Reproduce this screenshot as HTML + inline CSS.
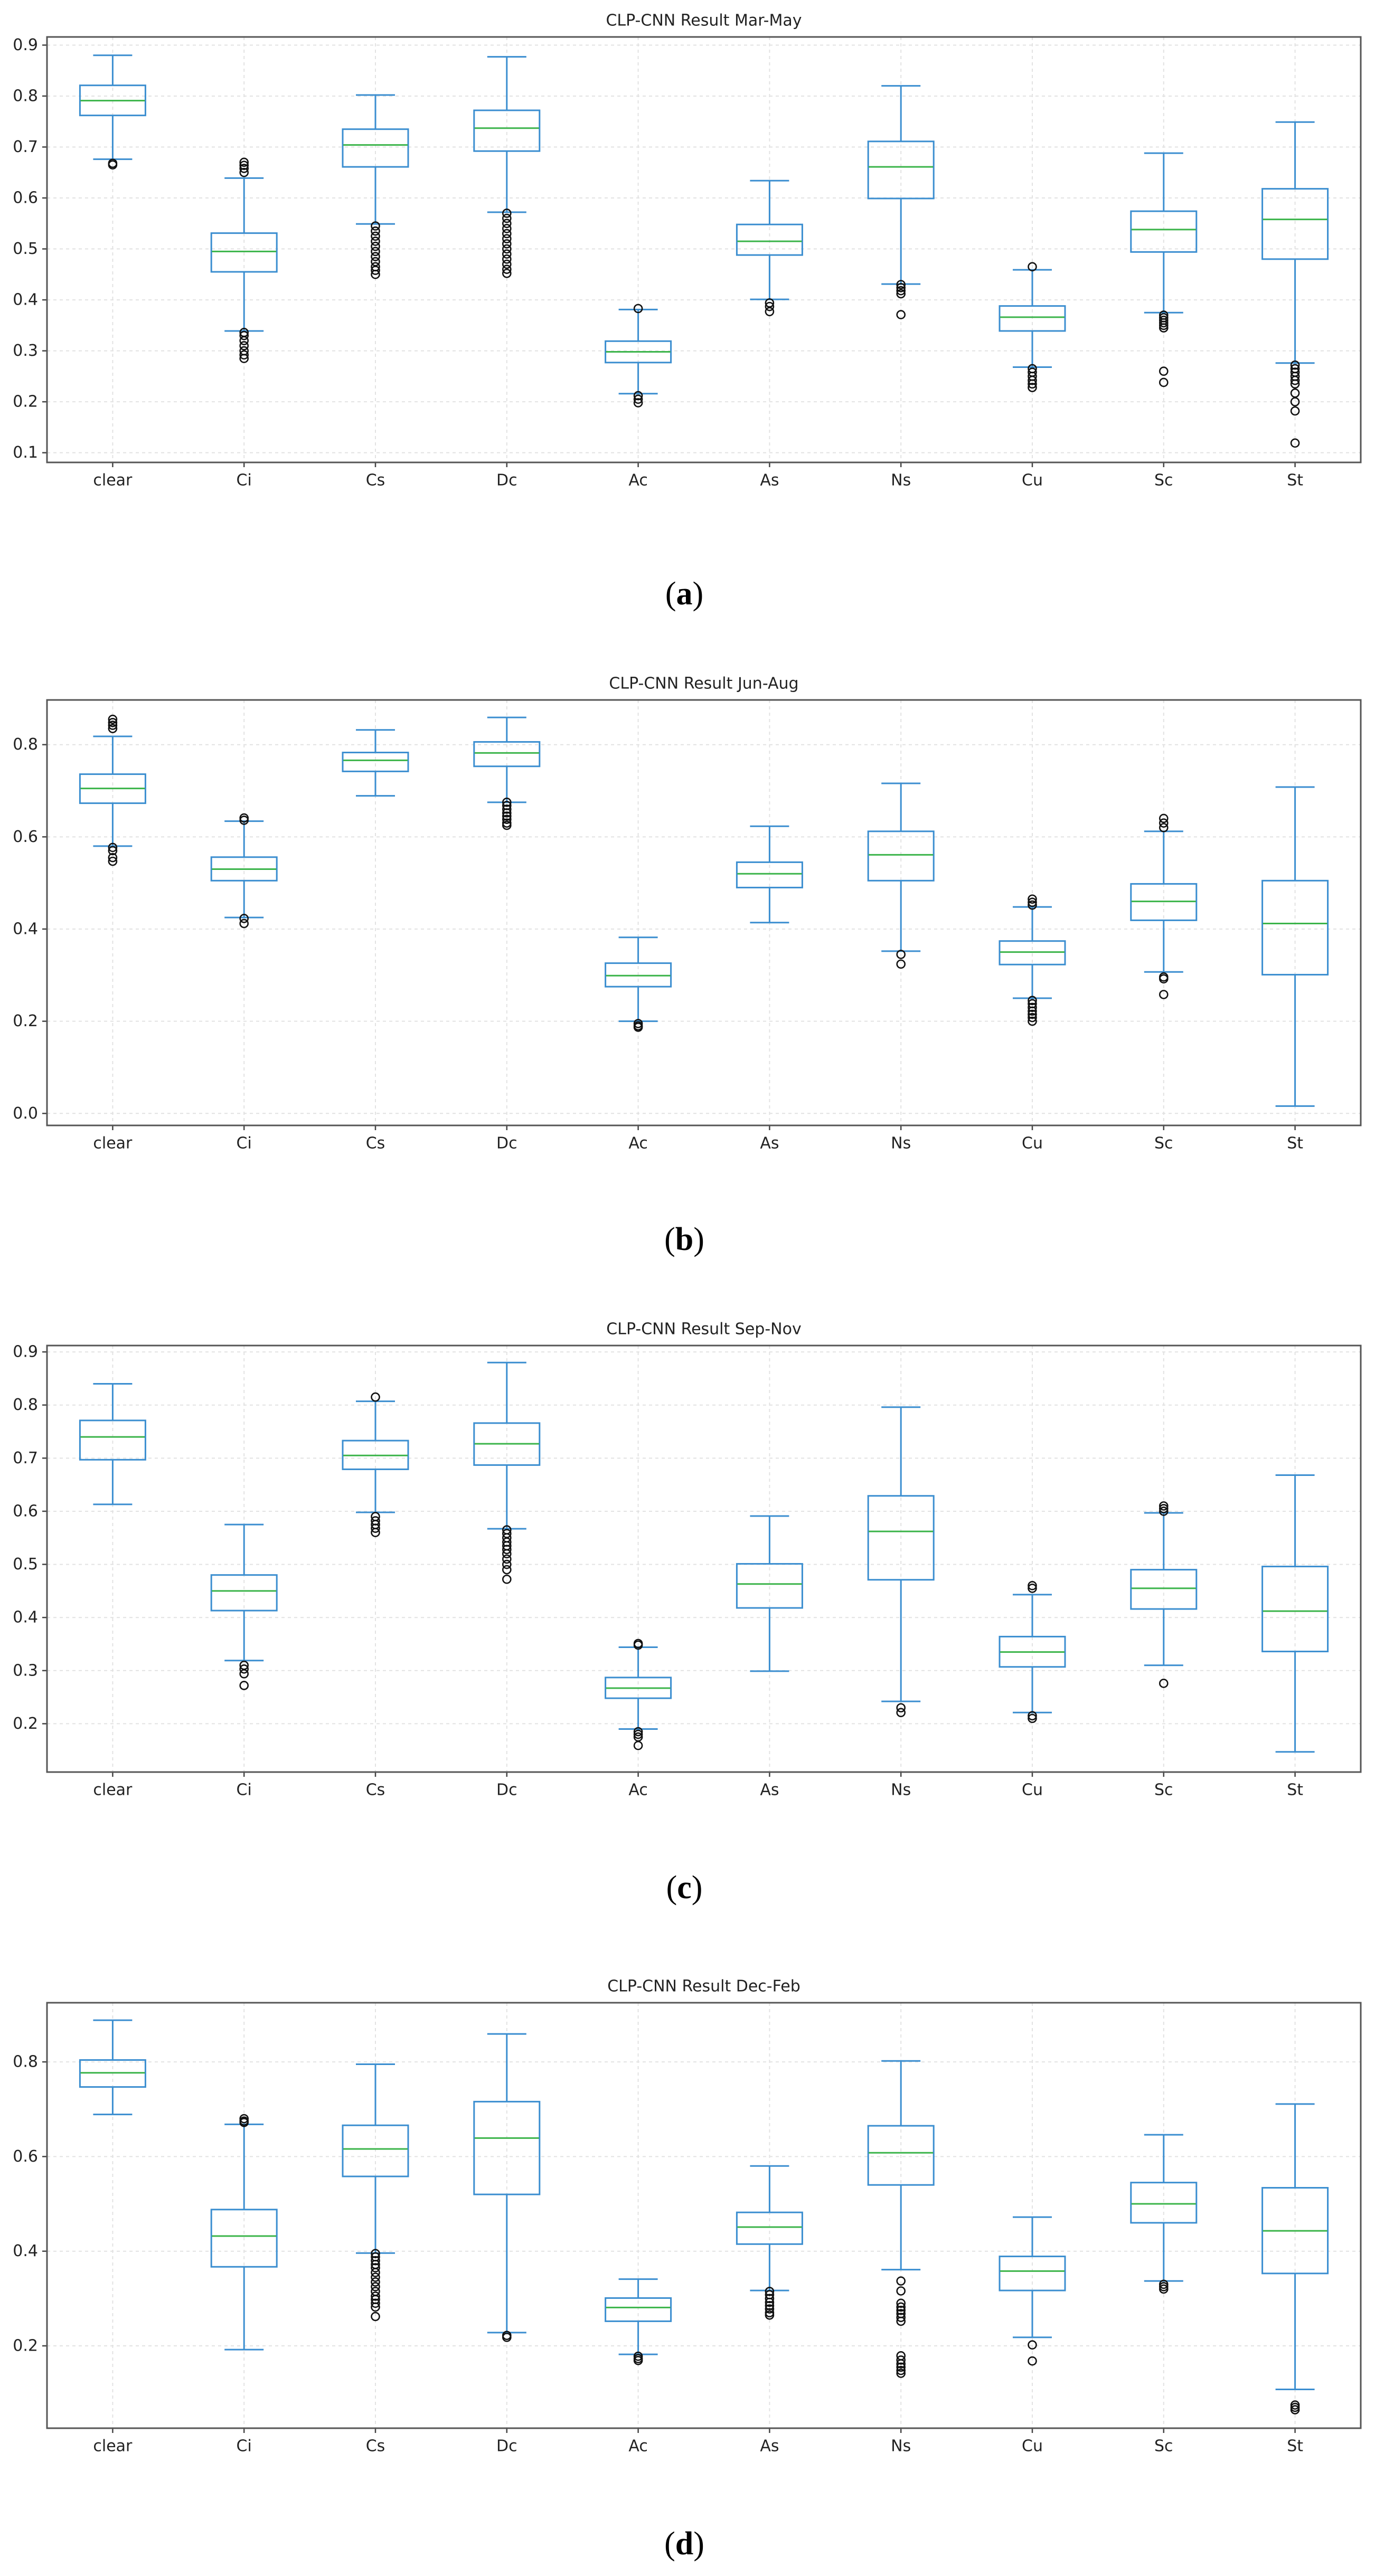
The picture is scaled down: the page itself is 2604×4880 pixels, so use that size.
<!DOCTYPE html>
<html><head><meta charset="utf-8"><title>CLP-CNN Results</title>
<style>
html,body{margin:0;padding:0;background:#fff;}
svg{display:block;}
text{font-family:"DejaVu Sans","Liberation Sans",sans-serif;fill:#222;}
.lbl{font-family:"Liberation Serif",serif;fill:#000;}
</style></head>
<body>
<svg id="fig" xmlns="http://www.w3.org/2000/svg" width="2604" height="4880" viewBox="0 0 2604 4880"></svg>
<script>
const categories = ["clear","Ci","Cs","Dc","Ac","As","Ns","Cu","Sc","St"];
const panelTitles = ["CLP-CNN Result Mar-May","CLP-CNN Result Jun-Aug","CLP-CNN Result Sep-Nov","CLP-CNN Result Dec-Feb"];
const panelLetters = ["a","b","c","d"];
const yTicksA = [0.1,0.2,0.3,0.4,0.5,0.6,0.7,0.8,0.9];
const yTicksB = [0.0,0.2,0.4,0.6,0.8];
const yTicksC = [0.2,0.3,0.4,0.5,0.6,0.7,0.8,0.9];
const yTicksD = [0.2,0.4,0.6,0.8];
const yRangeA = [0.081,0.916];
const yRangeB = [-0.026,0.897];
const yRangeC = [0.109,0.912];
const yRangeD = [0.026,0.925];
// each: [whislo, q1, median, q3, whishi]
const statsA = [[0.676,0.762,0.791,0.821,0.880],[0.339,0.455,0.495,0.531,0.639],[0.549,0.661,0.704,0.735,0.802],[0.572,0.692,0.737,0.772,0.877],[0.216,0.277,0.298,0.319,0.381],[0.401,0.488,0.515,0.548,0.634],[0.431,0.599,0.661,0.711,0.820],[0.268,0.339,0.366,0.388,0.459],[0.375,0.494,0.538,0.574,0.688],[0.276,0.480,0.558,0.618,0.749]];
const statsB = [[0.580,0.673,0.705,0.736,0.818],[0.425,0.505,0.530,0.556,0.634],[0.689,0.742,0.766,0.783,0.832],[0.675,0.753,0.782,0.806,0.859],[0.200,0.275,0.299,0.326,0.382],[0.414,0.490,0.520,0.545,0.623],[0.352,0.505,0.561,0.612,0.716],[0.250,0.323,0.350,0.374,0.448],[0.307,0.419,0.460,0.498,0.612],[0.016,0.301,0.412,0.505,0.708]];
const statsC = [[0.613,0.697,0.740,0.771,0.840],[0.319,0.413,0.450,0.480,0.575],[0.598,0.679,0.705,0.733,0.807],[0.567,0.687,0.727,0.766,0.880],[0.190,0.248,0.267,0.287,0.344],[0.299,0.418,0.463,0.501,0.591],[0.242,0.471,0.562,0.629,0.796],[0.221,0.307,0.335,0.364,0.443],[0.310,0.416,0.455,0.490,0.597],[0.147,0.336,0.412,0.496,0.668]];
const statsD = [[0.689,0.747,0.777,0.804,0.888],[0.192,0.367,0.432,0.488,0.668],[0.396,0.558,0.616,0.666,0.795],[0.228,0.520,0.639,0.716,0.859],[0.182,0.252,0.281,0.301,0.341],[0.317,0.415,0.451,0.482,0.580],[0.361,0.540,0.608,0.665,0.802],[0.218,0.317,0.358,0.389,0.472],[0.337,0.460,0.500,0.545,0.646],[0.108,0.353,0.443,0.534,0.711]];
const fliersA = [[0.665,0.668],[0.670,0.664,0.658,0.650,0.336,0.330,0.320,0.310,0.300,0.292,0.285],[0.545,0.535,0.525,0.515,0.505,0.495,0.485,0.475,0.465,0.458,0.450],[0.570,0.560,0.550,0.540,0.530,0.520,0.510,0.500,0.490,0.480,0.470,0.460,0.452],[0.383,0.212,0.205,0.198],[0.394,0.387,0.377],[0.430,0.424,0.418,0.412,0.371],[0.465,0.265,0.258,0.250,0.242,0.235,0.228],[0.370,0.365,0.360,0.355,0.350,0.345,0.260,0.238],[0.272,0.265,0.258,0.250,0.242,0.235,0.217,0.200,0.182,0.119]];
const fliersB = [[0.855,0.848,0.842,0.835,0.577,0.570,0.555,0.547],[0.641,0.636,0.423,0.412],[],[0.675,0.668,0.660,0.652,0.645,0.638,0.630,0.625],[0.195,0.190,0.187],[],[0.345,0.324],[0.465,0.458,0.452,0.245,0.238,0.230,0.222,0.215,0.208,0.200],[0.640,0.630,0.620,0.296,0.292,0.258],[]];
const fliersC = [[],[0.310,0.303,0.294,0.272],[0.815,0.590,0.582,0.575,0.568,0.560],[0.565,0.558,0.550,0.542,0.535,0.528,0.520,0.510,0.500,0.490,0.472],[0.351,0.348,0.185,0.180,0.175,0.159],[],[0.230,0.221],[0.460,0.455,0.215,0.210],[0.610,0.605,0.600,0.276],[]];
const fliersD = [[],[0.680,0.675,0.672],[0.395,0.388,0.380,0.372,0.365,0.355,0.345,0.335,0.325,0.315,0.305,0.298,0.290,0.282,0.262],[0.222,0.218],[0.178,0.173,0.169],[0.315,0.308,0.300,0.292,0.285,0.278,0.270,0.265],[0.337,0.316,0.290,0.282,0.275,0.268,0.260,0.252,0.179,0.170,0.162,0.155,0.148,0.142],[0.202,0.168],[0.330,0.325,0.320],[0.075,0.070,0.065]];

const panelData = [
  {top:70, bottom:876, ticks:yTicksA, range:yRangeA, stats:statsA, fliers:fliersA, lblY:1125},
  {top:1326, bottom:2132, ticks:yTicksB, range:yRangeB, stats:statsB, fliers:fliersB, lblY:2348},
  {top:2549, bottom:3357, ticks:yTicksC, range:yRangeC, stats:statsC, fliers:fliersC, lblY:3576},
  {top:3794, bottom:4600, ticks:yTicksD, range:yRangeD, stats:statsD, fliers:fliersD, lblY:4819}
];
const NS = "http://www.w3.org/2000/svg";
const svg = document.getElementById("fig");
const X0 = 89, X1 = 2577;
const BLUE = "#3b8ed0", GREEN = "#3bb44a";
function mk(tag, attrs, parent){
  const e = document.createElementNS(NS, tag);
  for (const k in attrs) e.setAttribute(k, attrs[k]);
  (parent||svg).appendChild(e);
  return e;
}
function xPos(i){ return X0 + (i + 0.5) * (X1 - X0) / categories.length; }

panelData.forEach((p, pi) => {
  const g = mk("g", {});
  
  
  const y = v => p.bottom - (v - p.range[0]) / (p.range[1] - p.range[0]) * (p.bottom - p.top);
  // grid
  p.ticks.forEach(t => {
    const gl = mk("line", {x1:X0, x2:X1, y1:y(t), y2:y(t), stroke:"#e2e2e2", "stroke-width":2, "stroke-dasharray":"6,6"}, g);
    
    
  });
  categories.forEach((c, i) => {
    const gl = mk("line", {x1:xPos(i), x2:xPos(i), y1:p.top, y2:p.bottom, stroke:"#e2e2e2", "stroke-width":2, "stroke-dasharray":"6,6"}, g);
    
    
  });
  // y ticks
  p.ticks.forEach(t => {
    mk("line", {x1:X0-9, x2:X0, y1:y(t), y2:y(t), stroke:"#444", "stroke-width":2.5}, g);
    const tx = mk("text", {x:72, y:y(t), "font-size":30, "text-anchor":"end", "dominant-baseline":"central"}, g);
    tx.textContent = t.toFixed(1);
    
    
  });
  // boxes
  categories.forEach((c, i) => {
    const s = p.stats[i], cx = xPos(i);
    const bg = mk("g", {}, g);
    
    
    mk("line", {x1:cx, x2:cx, y1:y(s[0]), y2:y(s[1]), stroke:BLUE, "stroke-width":3}, bg);
    mk("line", {x1:cx, x2:cx, y1:y(s[3]), y2:y(s[4]), stroke:BLUE, "stroke-width":3}, bg);
    mk("line", {x1:cx-37, x2:cx+37, y1:y(s[0]), y2:y(s[0]), stroke:BLUE, "stroke-width":3}, bg);
    mk("line", {x1:cx-37, x2:cx+37, y1:y(s[4]), y2:y(s[4]), stroke:BLUE, "stroke-width":3}, bg);
    mk("rect", {x:cx-62, y:y(s[3]), width:124, height:y(s[1])-y(s[3]), fill:"none", stroke:BLUE, "stroke-width":3}, bg);
    mk("line", {x1:cx-61, x2:cx+61, y1:y(s[2]), y2:y(s[2]), stroke:GREEN, "stroke-width":3}, bg);
    p.fliers[i].forEach(v => {
      const o = mk("circle", {cx:cx, cy:y(v), r:7.5, fill:"none", stroke:"#111", "stroke-width":2.6}, bg);
      
      
    });
    mk("line", {x1:cx, x2:cx, y1:p.bottom, y2:p.bottom+9, stroke:"#444", "stroke-width":2.5}, g);
    const xl = mk("text", {x:cx, y:p.bottom+34, "font-size":30, "text-anchor":"middle", "dominant-baseline":"central"}, g);
    xl.textContent = c;
    
    
  });
  // frame
  const fr = mk("rect", {x:X0, y:p.top, width:X1-X0, height:p.bottom-p.top, fill:"none", stroke:"#555", "stroke-width":3}, g);
  
  
  const tt = mk("text", {x:(X0+X1)/2, y:p.top-31, "font-size":30, "text-anchor":"middle", "dominant-baseline":"central"}, g);
  tt.textContent = panelTitles[pi];
  
  
  const lb = mk("text", {x:1296, y:p.lblY, "font-size":62, "text-anchor":"middle", "dominant-baseline":"central", "class":"lbl"}, g);
  
  
  const t1 = mk("tspan", {}, lb); t1.textContent = "(";
  const t2 = mk("tspan", {"font-weight":"bold"}, lb); t2.textContent = panelLetters[pi];
  const t3 = mk("tspan", {}, lb); t3.textContent = ")";
});
</script>
</body></html>
